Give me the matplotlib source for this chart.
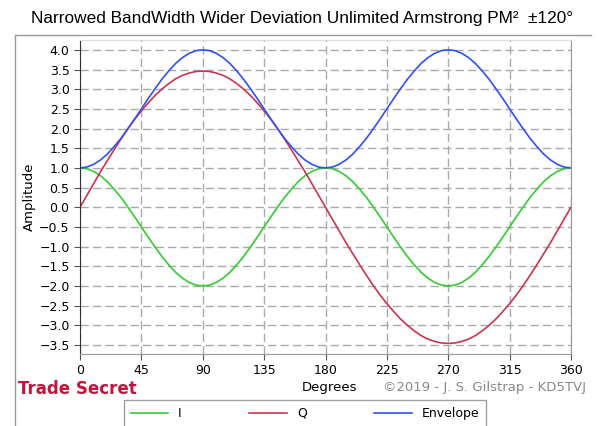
import matplotlib.pyplot as plt
from matplotlib.lines import Line2D

# angle in degrees, 5 degree steps
degrees = list(range(0, 361, 5))

i_vals = [1.00, 0.98, 0.91, 0.80, 0.65, 0.46, 0.25, 0.01, -0.24, -0.50, -0.76, -1.01, -1.25,
          -1.46, -1.65, -1.80, -1.91, -1.98, -2.00,
          -1.98, -1.91, -1.80, -1.65, -1.46, -1.25, -1.01, -0.76, -0.50, -0.24, 0.01, 0.25,
          0.46, 0.65, 0.80, 0.91, 0.98, 1.00,
          0.98, 0.91, 0.80, 0.65, 0.46, 0.25, 0.01, -0.24, -0.50, -0.76, -1.01, -1.25,
          -1.46, -1.65, -1.80, -1.91, -1.98, -2.00,
          -1.98, -1.91, -1.80, -1.65, -1.46, -1.25, -1.01, -0.76, -0.50, -0.24, 0.01, 0.25,
          0.46, 0.65, 0.80, 0.91, 0.98, 1.00]

q_vals = [0.00, 0.30, 0.60, 0.90, 1.18, 1.46, 1.73, 1.99, 2.23, 2.45, 2.65, 2.84, 3.00,
          3.14, 3.26, 3.35, 3.41, 3.45, 3.46,
          3.45, 3.41, 3.35, 3.26, 3.14, 3.00, 2.84, 2.65, 2.45, 2.23, 1.99, 1.73,
          1.46, 1.18, 0.90, 0.60, 0.30, 0.00,
          -0.30, -0.60, -0.90, -1.18, -1.46, -1.73, -1.99, -2.23, -2.45, -2.65, -2.84, -3.00,
          -3.14, -3.26, -3.35, -3.41, -3.45, -3.46,
          -3.45, -3.41, -3.35, -3.26, -3.14, -3.00, -2.84, -2.65, -2.45, -2.23, -1.99, -1.73,
          -1.46, -1.18, -0.90, -0.60, -0.30, 0.00]

env_vals = [1.00, 1.02, 1.09, 1.20, 1.35, 1.54, 1.75, 1.99, 2.24, 2.50, 2.76, 3.01, 3.25,
            3.46, 3.65, 3.80, 3.91, 3.98, 4.00,
            3.98, 3.91, 3.80, 3.65, 3.46, 3.25, 3.01, 2.76, 2.50, 2.24, 1.99, 1.75,
            1.54, 1.35, 1.20, 1.09, 1.02, 1.00,
            1.02, 1.09, 1.20, 1.35, 1.54, 1.75, 1.99, 2.24, 2.50, 2.76, 3.01, 3.25,
            3.46, 3.65, 3.80, 3.91, 3.98, 4.00,
            3.98, 3.91, 3.80, 3.65, 3.46, 3.25, 3.01, 2.76, 2.50, 2.24, 1.99, 1.75,
            1.54, 1.35, 1.20, 1.09, 1.02, 1.00]

x_ticks = [0, 45, 90, 135, 180, 225, 270, 315, 360]
y_ticks = [-3.5, -3.0, -2.5, -2.0, -1.5, -1.0, -0.5, 0.0, 0.5, 1.0, 1.5, 2.0, 2.5, 3.0, 3.5, 4.0]

fig = plt.figure(figsize=(5.97, 4.26), dpi=100)
ax = fig.add_axes([80 / 597, 1 - 354 / 426, 491 / 597, 314 / 426])

ax.plot(degrees, i_vals, color='#33cc33', lw=1.2, label='I')
ax.plot(degrees, q_vals, color='#cc3350', lw=1.2, label='Q')
ax.plot(degrees, env_vals, color='#3050f8', lw=1.2, label='Envelope')

ax.set_xlim(0, 360)
ax.set_ylim(-3.73, 4.25)
ax.set_xticks(x_ticks)
ax.set_yticks(y_ticks)
ax.set_yticklabels([('%.1f' % v).replace('-', '\u2212') for v in y_ticks])
ax.grid(True, color='#aaaaaa', linestyle=(0, (6, 3)), lw=1)
ax.tick_params(labelsize=9, length=4, color='#555555')
for s in ['bottom', 'right']:
    ax.spines[s].set_color('#999999')
ax.spines['top'].set_color('#dddddd')
ax.spines['left'].set_color('#333333')

ax.set_ylabel('Amplitude', fontsize=9.5)
ax.yaxis.set_label_coords(-0.09, 0.5)
fig.text(330 / 597, 1 - 388 / 426, 'Degrees', ha='center', va='center', fontsize=9.5)
fig.text(18 / 597, 1 - 389 / 426, 'Trade Secret', ha='left', va='center', fontsize=12,
         fontweight='bold', color='#c0143c')
fig.text(586 / 597, 1 - 388 / 426, '\u00a92019 - J. S. Gilstrap - KD5TVJ', ha='right',
         va='center', fontsize=9.5, color='#888888')

fig.text(302 / 597, 1 - 18 / 426, 'Narrowed BandWidth Wider Deviation Unlimited Armstrong PM\u00b2  \u00b1120\u00b0',
         ha='center', va='center', fontsize=12.4, family='Liberation Sans')

# outer frame (left and top edges only)
fig.add_artist(Line2D([15 / 597, 15 / 597, 591 / 597], [0, 1 - 35 / 426, 1 - 35 / 426],
                      transform=fig.transFigure, color='#999999', lw=1))

fig.legend(loc='upper center', bbox_to_anchor=(305 / 597, 1 - 400 / 426), ncol=3,
           fontsize=9, frameon=True, fancybox=False, edgecolor='#888888',
           handlelength=3.0, columnspacing=5.4, borderpad=0.55, borderaxespad=0)

fig.savefig('out.png', dpi=100)
